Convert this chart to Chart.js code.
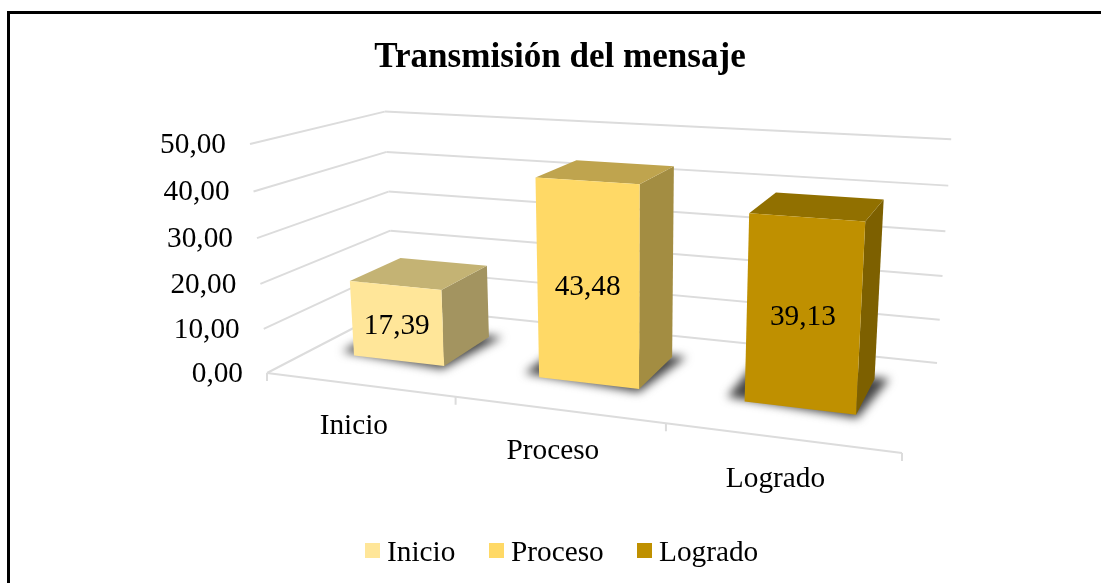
<!DOCTYPE html>
<html>
<head>
<meta charset="utf-8">
<title>Transmisión del mensaje</title>
<style>
  html, body { margin: 0; padding: 0; background: #fff; overflow: hidden; }
  #frame { position: absolute; left: 7px; top: 11px; right: 0; bottom: 0; border-left: 3px solid #000; border-top: 3px solid #000; }
  #chart { position: absolute; left: 0; top: 0; }
</style>
<script src="https://cdn.jsdelivr.net/npm/chart.js@4"></script>
</head>
<body>
<div id="frame"></div>
<canvas id="chart" width="1101" height="583"></canvas>
<script>
const categories = ["Inicio", "Proceso", "Logrado"];
const values = [17.39, 43.48, 39.13];
const frontColors = ["#FFE699", "#FFD966", "#BF9000"];
const topColors = ["#C4B374", "#BFA44E", "#917000"];
const sideColors = ["#A39460", "#A38D42", "#7D6000"];

const serif = '"Liberation Serif", "Times New Roman", serif';
const gridColor = "#dcdcdc";

// camera: floor corners on screen (front-left, front-right, back-right, back-left),
// where the top of the front-left edge lands, and how much the top leans toward the viewer
const floorQuad = [[267, 373], [902, 453], [937, 363], [394, 307]];
const roofCorner = [250, 144];
const roofLean = -0.045;
const barDepth = [0.307, 0.72];

const [qa, qb, qc, qd] = floorQuad;
const dx1 = qb[0] - qc[0], dx2 = qd[0] - qc[0], sx = qa[0] - qb[0] + qc[0] - qd[0];
const dy1 = qb[1] - qc[1], dy2 = qd[1] - qc[1], sy = qa[1] - qb[1] + qc[1] - qd[1];
const den = dx1 * dy2 - dx2 * dy1;
const wx = (sx * dy2 - dx2 * sy) / den;
const wz = (dx1 * sy - sx * dy1) / den;

// x along the categories, h up the value axis, z into the depth, all 0..1
function project(x, h, z) {
    const w = 1 + wx * x + wz * z + roofLean * h;
    const axis = i => qa[i]
        + (qb[i] * (1 + wx) - qa[i]) * x
        + (qd[i] * (1 + wz) - qa[i]) * z
        + (roofCorner[i] * (1 + roofLean) - qa[i]) * h;
    return [axis(0) / w, axis(1) / w];
}

function line(ctx, p, q) {
    ctx.beginPath();
    ctx.moveTo(p[0], p[1]);
    ctx.lineTo(q[0], q[1]);
    ctx.stroke();
}
function poly(ctx, pts, color) {
    ctx.beginPath();
    pts.forEach((p, i) => i ? ctx.lineTo(p[0], p[1]) : ctx.moveTo(p[0], p[1]));
    ctx.closePath();
    ctx.fillStyle = color;
    ctx.fill();
}

const bars3d = {
    id: "bars3d",
    beforeDatasetDraw(chart) {
        const ctx = chart.ctx;
        const xs = chart.scales.x, ys = chart.scales.y;
        const meta = chart.getDatasetMeta(0);
        const heightOf = v => (ys.bottom - ys.getPixelForValue(v)) / (ys.bottom - ys.top);

        ctx.save();
        // walls
        ctx.strokeStyle = gridColor;
        ctx.lineWidth = 2;
        ys.ticks.forEach(t => {
            const h = heightOf(t.value);
            line(ctx, project(0, h, 0), project(0, h, 1));
            line(ctx, project(0, h, 1), project(1, h, 1));
        });
        line(ctx, project(0, 0, 0), project(1, 0, 0));
        for (let i = 0; i <= categories.length; i++) {
            const p = project(i / categories.length, 0, 0);
            line(ctx, p, [p[0], p[1] + 8]);
        }

        // axis text
        ctx.fillStyle = "#000";
        ctx.font = "29.3px " + serif;
        ctx.textBaseline = "middle";
        ctx.textAlign = "right";
        ys.ticks.forEach(t => {
            const p = project(0, heightOf(t.value), 0);
            ctx.fillText(t.value.toFixed(2).replace(".", ","), p[0] - 24, p[1] + 1);
        });
        ctx.textAlign = "center";
        categories.forEach((c, i) => {
            const p = project((i + 0.5) / categories.length, 0, 0);
            ctx.fillText(c, p[0] - 5, p[1] + 42);
        });

        // bars, read back from the chart's own bar elements
        meta.data.forEach((el, i) => {
            const cx = (el.x - xs.left) / xs.width;
            const half = el.width / xs.width / 2;
            const l = cx - half, r = cx + half;
            const [z0, z1] = barDepth;
            const h = heightOf(values[i]);

            ctx.save();
            ctx.filter = "blur(5px)";
            poly(ctx, [project(l - 0.03, 0, z0 + 0.03), project(r + 0.004, 0, z0 - 0.035),
                       project(r + 0.022, 0, z1 + 0.02), project(l - 0.03, 0, z1)], "#444");
            ctx.restore();

            poly(ctx, [project(r, 0, z0), project(r, 0, z1), project(r, h, z1), project(r, h, z0)], sideColors[i]);
            poly(ctx, [project(l, h, z0), project(r, h, z0), project(r, h, z1), project(l, h, z1)], topColors[i]);
            poly(ctx, [project(l, 0, z0), project(r, 0, z0), project(r, h, z0), project(l, h, z0)], frontColors[i]);

            const c = project(cx, h / 2, z0);
            ctx.fillStyle = "#000";
            ctx.fillText(values[i].toFixed(2).replace(".", ","), c[0], c[1] + 3);
        });

        // legend
        const legendX = [365, 489, 637];
        ctx.textAlign = "left";
        categories.forEach((c, i) => {
            ctx.fillStyle = frontColors[i];
            ctx.fillRect(legendX[i], 543, 15, 15);
            ctx.fillStyle = "#000";
            ctx.fillText(c, legendX[i] + 22, 553);
        });
        ctx.restore();
        return false;
    }
};

new Chart(document.getElementById("chart"), {
    type: "bar",
    data: {
        labels: categories,
        datasets: [{ data: values, backgroundColor: frontColors, barPercentage: 1, categoryPercentage: 0.5 }]
    },
    options: {
        responsive: false,
        animation: false,
        layout: { padding: { left: 19 } },
        scales: {
            x: { display: false },
            y: { display: false, min: 0, max: 50, ticks: { stepSize: 10 } }
        },
        plugins: {
            legend: { display: false },
            tooltip: { enabled: false },
            title: {
                display: true,
                text: "Transmisión del mensaje",
                color: "#000",
                font: { family: serif, size: 35.1, weight: "bold" },
                padding: { top: 37, bottom: 10 }
            }
        }
    },
    plugins: [bars3d]
});
</script>
</body>
</html>
